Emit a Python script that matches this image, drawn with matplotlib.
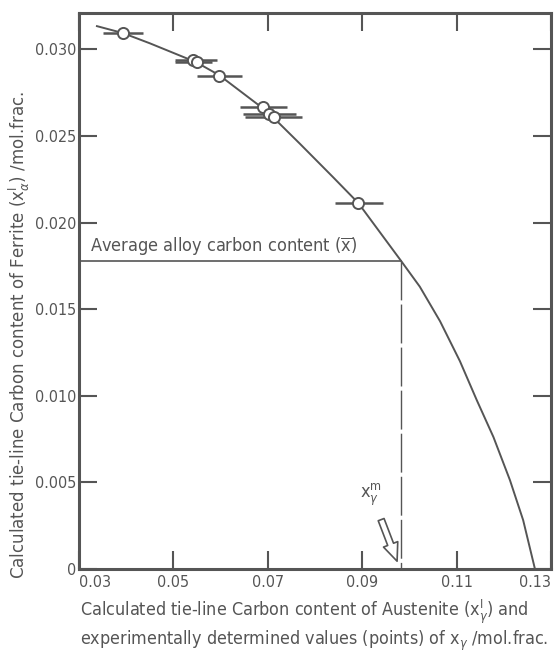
import numpy as np
import matplotlib
matplotlib.use('Agg')
import matplotlib.pyplot as plt
from matplotlib.patches import FancyArrowPatch

plt.rcParams['font.family'] = ['DejaVu Sans']
plt.rcParams['font.stretch'] = 'condensed'

grey = '#555555'

# calculated tie-line curve
curve_x = [0.0338, 0.0393, 0.0450, 0.0548, 0.0597, 0.0700, 0.0768, 0.0839, 0.0892,
           0.0982, 0.1022, 0.1065, 0.1107, 0.1143, 0.1178, 0.1213, 0.1241, 0.1266]
curve_y = [0.03134, 0.03094, 0.03035, 0.02926, 0.02851, 0.02638, 0.02455, 0.02260, 0.02112,
           0.01780, 0.01630, 0.01430, 0.01200, 0.00973, 0.00762, 0.00513, 0.00282, 0.0]

# experimental points with horizontal error bars
pts_x = [0.0394, 0.0542, 0.0549, 0.0597, 0.0689, 0.0703, 0.0713, 0.0892]
pts_y = [0.03092, 0.02938, 0.02925, 0.02849, 0.02669, 0.02625, 0.02611, 0.02112]
err_lo = [0.0351, 0.0503, 0.0503, 0.0550, 0.0641, 0.0647, 0.0652, 0.0842]
err_hi = [0.0436, 0.0592, 0.0582, 0.0645, 0.0741, 0.0760, 0.0772, 0.0944]

x_avg = 0.0982
y_avg = 0.0178

xticks = [0.03, 0.05, 0.07, 0.09, 0.11, 0.13]
xtick_labels = ['0.03', '0.05', '0.07', '0.09', '0.11', '0.13']
yticks = [0, 0.005, 0.010, 0.015, 0.020, 0.025, 0.030]
ytick_labels = ['0', '0.005', '0.010', '0.015', '0.020', '0.025', '0.030']

fig = plt.figure(figsize=(5.54, 6.55), dpi=100)
ax = fig.add_axes([0.1426, 0.1313, 0.852, 0.8489])

ax.plot(curve_x, curve_y, color=grey, lw=1.4)

xe = np.array([np.array(pts_x) - np.array(err_lo), np.array(err_hi) - np.array(pts_x)])
ax.errorbar(pts_x, pts_y, xerr=xe, fmt='none', ecolor=grey, elinewidth=1.8, capsize=0)
ax.plot(pts_x, pts_y, 'o', ms=8, mfc='white', mec=grey, mew=1.4)

ax.plot([0.03, x_avg], [y_avg, y_avg], color=grey, lw=1.2)
ax.plot([x_avg, x_avg], [y_avg, 0], color=grey, lw=1.0, dashes=(28, 3))
ax.text(0.0324, y_avg + 0.00015, r'Average alloy carbon content ($\overline{\mathrm{x}}$)',
        fontsize=13, color=grey, va='bottom')

ax.text(0.0918, 0.0043, r'$\mathrm{x}_\gamma^\mathrm{m}$', fontsize=13, color=grey,
        ha='center', va='center')
arr = FancyArrowPatch((0.0938, 0.0030), (0.0976, 0.0003),
                      arrowstyle='simple,head_width=11,head_length=13,tail_width=4.5',
                      fc='white', ec=grey, lw=1.2)
ax.add_patch(arr)

ax.set_xlim(0.03, 0.13)
ax.set_ylim(0, 0.0321)
ax.set_xticks(xticks)
ax.set_xticklabels(xtick_labels)
ax.set_yticks(yticks)
ax.set_yticklabels(ytick_labels)
ax.tick_params(direction='in', length=13, width=1.5, colors=grey, labelsize=11.5,
               top=True, right=True, labelcolor=grey)
ax.tick_params(axis='y', pad=2)
ax.tick_params(axis='x', pad=4)
xl = ax.get_xticklabels()
xl[0].set_ha('left')
xl[-1].set_ha('right')
for s in ax.spines.values():
    s.set_linewidth(2.2)
    s.set_color(grey)

ax.set_ylabel(r'Calculated tie-line Carbon content of Ferrite (x$_\alpha^\mathrm{I}$) /mol.frac.',
              fontsize=13.3, color=grey)
ax.yaxis.set_label_coords(-0.10, 0.42)
ax.set_xlabel('Calculated tie-line Carbon content of Austenite (x$_\\gamma^\\mathrm{I}$) and\n'
              'experimentally determined values (points) of x$_\\gamma$ /mol.frac.',
              fontsize=12.9, color=grey, ha='left', linespacing=1.15)
ax.xaxis.set_label_coords(0.003, -0.052)
ax.xaxis.label.set_va('top')

fig.savefig('out.png', dpi=100)
